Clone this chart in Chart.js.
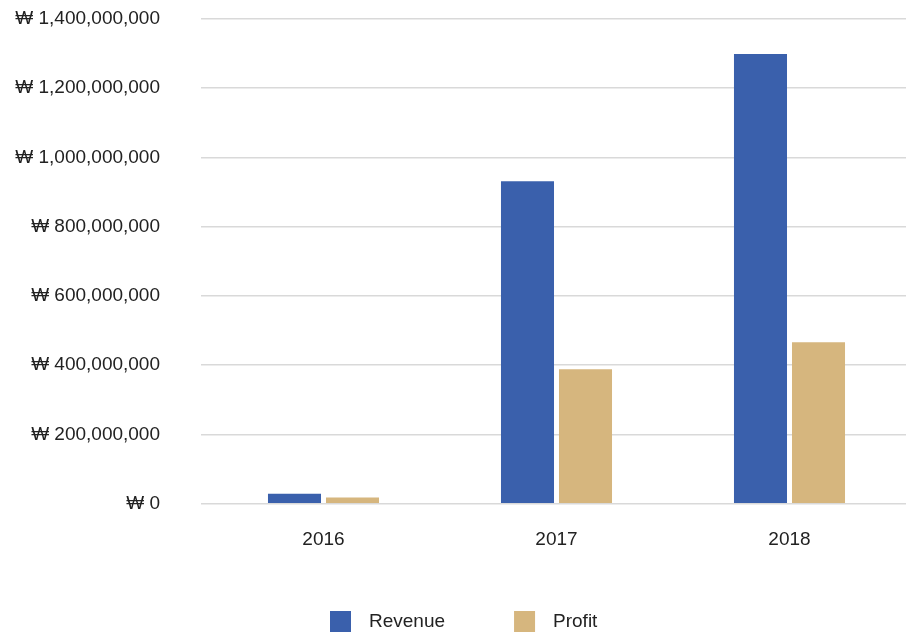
<!DOCTYPE html>
<html>
<head>
<meta charset="utf-8">
<script src="https://cdn.jsdelivr.net/npm/chart.js@4/dist/chart.umd.min.js"></script>
<style>
  html, body { margin: 0; padding: 0; background: #fff; }
  #wrap { width: 915px; height: 635px; }
</style>
</head>
<body>
<div id="wrap"><canvas id="chart" width="915" height="635"></canvas></div>
<script>
const years = ['2016', '2017', '2018'];
const revenue = [29000000, 931000000, 1299000000];
const profit = [18000000, 388000000, 466000000];
const seriesNames = ['Revenue', 'Profit'];
const yMax = 1400000000;
const yStep = 200000000;

const BLUE = '#3A60AC';
const TAN = '#D6B67E';
const FONT = "'Liberation Sans', Arial, Helvetica, sans-serif";

// legend drawn by hand so the spacing matches
const legendPlugin = {
    id: 'bottomLegend',
    afterDraw(chart) {
        const ctx = chart.ctx;
        ctx.save();
        ctx.font = '19px ' + FONT;
        ctx.textBaseline = 'middle';
        ctx.textAlign = 'left';
        let x = 330;
        const y = 611;
        chart.data.datasets.forEach(ds => {
            ctx.fillStyle = ds.backgroundColor;
            ctx.fillRect(x, y, 21, 21);
            ctx.fillStyle = '#222';
            ctx.fillText(ds.label, x + 39, y + 11);
            x += 39 + ctx.measureText(ds.label).width + 69;
        });
        ctx.restore();
    }
};

new Chart(document.getElementById('chart').getContext('2d'), {
    type: 'bar',
    data: {
        labels: years,
        datasets: [
            { label: seriesNames[0], data: revenue, backgroundColor: BLUE },
            { label: seriesNames[1], data: profit, backgroundColor: TAN }
        ]
    },
    options: {
        responsive: false,
        animation: false,
        layout: { padding: { top: 19, right: 9, left: 0, bottom: 58.5 } },
        datasets: {
            bar: { barPercentage: 0.914, categoryPercentage: 0.498 }
        },
        scales: {
            x: {
                grid: { display: false, drawTicks: false },
                border: { display: false },
                ticks: { color: '#222', font: { family: FONT, size: 19 }, padding: 25 }
            },
            y: {
                min: 0,
                max: yMax,
                border: { display: false },
                grid: { color: '#d9d9d9', lineWidth: 1.5, tickLength: 6 },
                ticks: {
                    stepSize: yStep,
                    padding: 41,
                    color: '#222',
                    font: { family: FONT, size: 19 },
                    callback: v => '₩ ' + v.toLocaleString('en-US')
                },
                afterFit(scale) {
                    scale.width = 207;
                    scale.paddingTop = 0;
                    scale.paddingBottom = 0;
                }
            }
        },
        plugins: {
            legend: { display: false },
            tooltip: { enabled: false }
        }
    },
    plugins: [legendPlugin]
});
</script>
</body>
</html>
